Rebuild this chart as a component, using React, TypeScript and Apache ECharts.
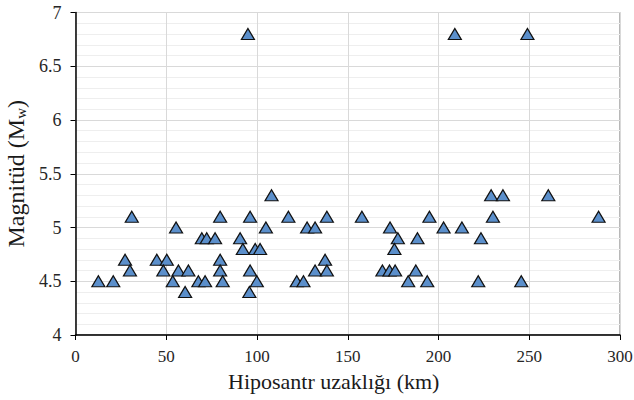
import React, { useEffect, useRef } from "react";
import * as echarts from "echarts";

const distances: number[] = [
  95, 209, 249,
  108, 229, 235.5, 260.5,
  31, 79.7, 96.2, 117.3, 138.5, 157.8, 195, 230, 288.2,
  55.4, 104.9, 127.6, 132, 173.3, 202.8, 212.9,
  69.6, 72.3, 76.9, 90.7, 177.6, 188.4, 223.4,
  92.2, 99, 101.7, 175.7,
  27.3, 44.8, 50.3, 79.7, 137.5,
  30, 48.4, 56.7, 62.2, 79.7, 96.2, 132, 138.5, 169.1, 173, 176.1, 187.5,
  12.6, 20.8, 53.6, 67.7, 71.4, 81.1, 99.9, 121.9, 125.6, 183.3, 193.8, 221.9, 245.6,
  60.4, 95.8,
];
const magnitudes: number[] = [
  6.8, 6.8, 6.8,
  5.3, 5.3, 5.3, 5.3,
  5.1, 5.1, 5.1, 5.1, 5.1, 5.1, 5.1, 5.1, 5.1,
  5.0, 5.0, 5.0, 5.0, 5.0, 5.0, 5.0,
  4.9, 4.9, 4.9, 4.9, 4.9, 4.9, 4.9,
  4.8, 4.8, 4.8, 4.8,
  4.7, 4.7, 4.7, 4.7, 4.7,
  4.6, 4.6, 4.6, 4.6, 4.6, 4.6, 4.6, 4.6, 4.6, 4.6, 4.6, 4.6,
  4.5, 4.5, 4.5, 4.5, 4.5, 4.5, 4.5, 4.5, 4.5, 4.5, 4.5, 4.5, 4.5,
  4.4, 4.4,
];

const xTitle = "Hiposantr uzaklığı (km)";
const yTitle = "Magnitüd (M{sub|w})";

export default function App() {
  const ref = useRef<HTMLDivElement>(null);
  useEffect(() => {
    if (!ref.current) return;
    const chart = echarts.init(ref.current, undefined, { renderer: "svg" });
    const font = "Liberation Serif";
    chart.setOption({
      animation: false,
      backgroundColor: "#ffffff",
      grid: {
        left: 75.5,
        right: 14,
        top: 12.5,
        bottom: 65,
        show: true,
        borderColor: "#707070",
        borderWidth: 1,
        containLabel: false,
        outerBoundsMode: "none",
      },
      xAxis: {
        type: "value",
        min: 0,
        max: 300,
        interval: 50,
        name: xTitle,
        nameLocation: "middle",
        nameGap: 35,
        nameTextStyle: { fontFamily: font, fontSize: 22, color: "#1a1a1a", padding: [0, 28, 0, 0] },
        axisLine: { show: true, onZero: false, lineStyle: { color: "#000", width: 1.5 } },
        axisTick: { show: true, inside: false, length: 5, lineStyle: { color: "#000" } },
        axisLabel: { fontFamily: font, fontSize: 17, color: "#262626", margin: 13 },
        splitLine: { show: true, lineStyle: { color: "#d9d9d9", width: 1 } },
      },
      yAxis: {
        type: "value",
        min: 4,
        max: 7,
        interval: 0.5,
        name: yTitle,
        nameLocation: "middle",
        nameGap: 44,
        nameRotate: 90,
        nameTextStyle: {
          fontFamily: font,
          fontSize: 24,
          color: "#1a1a1a",
          rich: { sub: { fontFamily: font, fontSize: 15, color: "#1a1a1a", verticalAlign: "bottom", padding: [10, 0, 0, 0] } },
        },
        axisLine: { show: true, onZero: false, lineStyle: { color: "#000", width: 1.5 } },
        axisTick: { show: true, inside: false, length: 5, lineStyle: { color: "#000" } },
        axisLabel: { fontFamily: font, fontSize: 18, color: "#262626", margin: 14 },
        splitLine: { show: true, lineStyle: { color: "#d9d9d9", width: 1 } },
        minorTick: { show: false, splitNumber: 5 },
        minorSplitLine: { show: true, lineStyle: { color: "#eeeeee", width: 1 } },
      },
      series: [
        {
          type: "scatter",
          symbol: "triangle",
          symbolSize: [13, 11],
          data: distances.map((d, i) => [d, magnitudes[i]]),
          itemStyle: { color: "#5b8fcb", borderColor: "#111", borderWidth: 1.2, opacity: 1 },
        },
      ],
    });
    return () => chart.dispose();
  }, []);
  return <div ref={ref} style={{ width: 634, height: 400, position: "absolute", left: 0, top: 0 }} />;
}
